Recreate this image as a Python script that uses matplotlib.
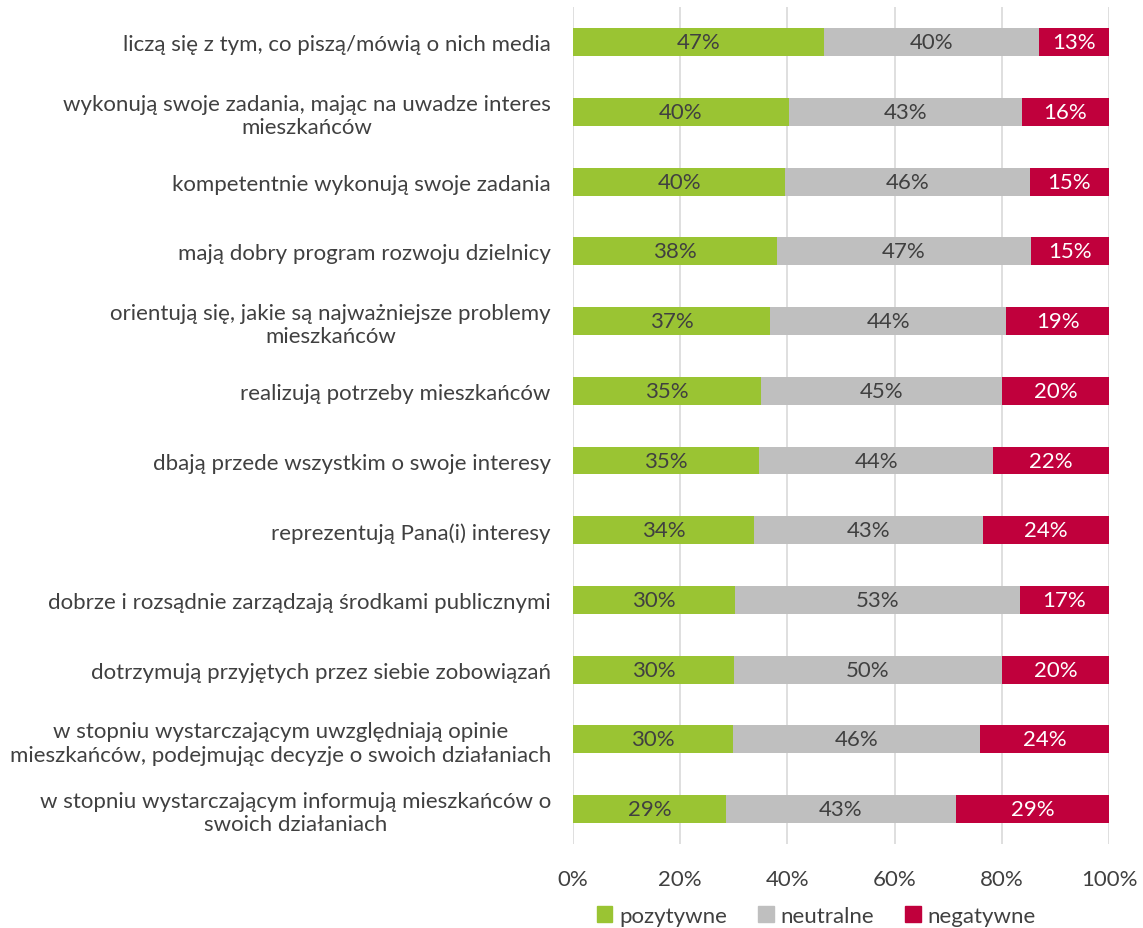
import numpy as np
import matplotlib.pyplot as plt
from matplotlib.patches import Patch

plt.rcParams['font.family'] = ['Lato', 'DejaVu Sans']

labels = [
    "liczą się z tym, co piszą/mówią o nich media",
    "wykonują swoje zadania, mając na uwadze interes\nmieszkańców",
    "kompetentnie wykonują swoje zadania",
    "mają dobry program rozwoju dzielnicy",
    "orientują się, jakie są najważniejsze problemy\nmieszkańców",
    "realizują potrzeby mieszkańców",
    "dbają przede wszystkim o swoje interesy",
    "reprezentują Pana(i) interesy",
    "dobrze i rozsądnie zarządzają środkami publicznymi",
    "dotrzymują przyjętych przez siebie zobowiązań",
    "w stopniu wystarczającym uwzględniają opinie\nmieszkańców, podejmując decyzje o swoich działaniach",
    "w stopniu wystarczającym informują mieszkańców o\nswoich działaniach",
]
pozytywne = [46.8, 40.3, 39.6, 38.1, 36.8, 35.1, 34.7, 33.8, 30.2, 30.0, 29.9, 28.6]
neutralne = [40.1, 43.4, 45.6, 47.3, 44.0, 44.9, 43.7, 42.6, 53.2, 50.0, 46.0, 42.8]
negatywne = [13.1, 16.3, 14.8, 14.6, 19.2, 20.0, 21.6, 23.7, 16.6, 20.0, 24.1, 28.6]

series = [("pozytywne", pozytywne, "#9AC433", "#404040"),
          ("neutralne", neutralne, "#BFBFBF", "#404040"),
          ("negatywne", negatywne, "#C0003C", "white")]

fig = plt.figure(figsize=(11.43, 9.29), dpi=100)
ax = fig.add_axes([0.5013, 0.0904, 0.4690, 0.9006])

fs = 16
y = np.arange(len(labels))
left = np.zeros(len(labels))
for name, vals, color, tcolor in series:
    vals = np.array(vals) / 100.0
    bars = ax.barh(y, vals, left=left, height=0.4, color=color, zorder=3)
    for b, v in zip(bars, vals):
        ax.text(b.get_x() + b.get_width() / 2, b.get_y() + b.get_height() / 2,
                f"{round(v * 100):.0f}%", ha="center", va="center",
                color=tcolor, fontsize=fs, zorder=4)
    left += vals

ax.set_xlim(0, 1)
ax.set_ylim(len(labels) - 0.5, -0.5)
ax.set_xticks(np.linspace(0, 1, 6))
ax.set_xticklabels([f"{int(t)}%" for t in np.linspace(0, 100, 6)])
ax.set_yticks(y)
ax.set_yticklabels(labels, multialignment="center")
ax.tick_params(axis="y", length=0, pad=16, labelsize=fs, labelcolor="#404040")
ax.tick_params(axis="x", length=0, pad=18, labelsize=fs, labelcolor="#404040")
ax.grid(axis="x", color="#D9D9D9", linewidth=1.2, zorder=0)
for s in ax.spines.values():
    s.set_visible(False)

handles = [Patch(color=c, label=n) for n, _, c, _ in series]
fig.legend(handles=handles, loc="lower center", bbox_to_anchor=(0.714, -0.019), ncol=3,
           frameon=False, fontsize=fs, handlelength=0.7, handleheight=0.7,
           handletextpad=0.3, columnspacing=1.4, labelcolor="#404040")

fig.savefig("out.png", dpi=100)
